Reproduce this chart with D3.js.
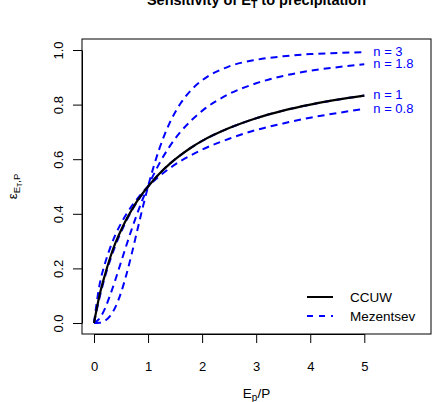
<!DOCTYPE html>
<html>
<head>
<meta charset="utf-8">
<script src="https://cdn.jsdelivr.net/npm/d3@7"></script>
<style>
  body { margin: 0; background: #fff; }
  svg text { font-family: "Liberation Sans", Arial, sans-serif; }
</style>
</head>
<body>
<svg id="chart" width="433" height="402"></svg>
<script>
// values (Ep/P on x, elasticity on y)
const ratio = [0, 0.1, 0.2, 0.3, 0.4, 0.5, 0.6, 0.7, 0.8, 0.9, 1, 1.2, 1.4, 1.6, 1.8, 2, 2.5, 3, 3.5, 4, 4.5, 5];

const ccuw = [0, 0.100, 0.175, 0.240, 0.295, 0.340, 0.380, 0.415, 0.447, 0.475, 0.5,
  0.545, 0.583, 0.615, 0.643, 0.667, 0.714, 0.750, 0.778, 0.800, 0.818, 0.833];

const mezN08 = [0, 0.137, 0.216, 0.276, 0.325, 0.365, 0.399, 0.429, 0.455, 0.479, 0.5,
  0.536, 0.567, 0.593, 0.615, 0.635, 0.675, 0.707, 0.731, 0.752, 0.769, 0.784];
const mezN1 = [0, 0.091, 0.167, 0.231, 0.286, 0.333, 0.375, 0.412, 0.444, 0.474, 0.5,
  0.545, 0.583, 0.615, 0.643, 0.667, 0.714, 0.750, 0.778, 0.800, 0.818, 0.833];
const mezN18 = [0, 0.016, 0.052, 0.103, 0.161, 0.223, 0.285, 0.345, 0.401, 0.453, 0.5,
  0.581, 0.647, 0.700, 0.742, 0.777, 0.839, 0.878, 0.905, 0.924, 0.937, 0.948];
const mezN3 = [0, 0.001, 0.008, 0.026, 0.060, 0.111, 0.178, 0.255, 0.339, 0.422, 0.5,
  0.633, 0.733, 0.804, 0.854, 0.889, 0.940, 0.964, 0.977, 0.985, 0.989, 0.992];

const mezSeries = [mezN08, mezN1, mezN18, mezN3];
const mezLabels = ["n = 0.8", "n = 1", "n = 1.8", "n = 3"];

const xTicks = [0, 1, 2, 3, 4, 5];
const yTicks = [0, 0.2, 0.4, 0.6, 0.8, 1.0];

const legendNames = ["CCUW", "Mezentsev"];

const svg = d3.select("#chart");

// plot region (R style box)
const box = { left: 82, right: 431, top: 39, bottom: 334 };

const x = d3.scaleLinear().domain([0, 5]).range([94, 364.3]);
const y = d3.scaleLinear().domain([0, 1]).range([323, 50]);

const line = d3.line()
  .x((d, i) => x(ratio[i]))
  .y(d => y(d))
  .curve(d3.curveMonotoneX);

// mezentsev curves, dashed blue
mezSeries.forEach(s => {
  svg.append("path")
    .datum(s)
    .attr("d", line)
    .attr("fill", "none")
    .attr("stroke", "#0000ff")
    .attr("stroke-width", 2)
    .attr("stroke-dasharray", "7,5");
});

// ccuw, solid black
svg.append("path")
  .datum(ccuw)
  .attr("d", line)
  .attr("fill", "none")
  .attr("stroke", "#000")
  .attr("stroke-width", 2.2);

// labels at the curve ends
mezSeries.forEach((s, i) => {
  svg.append("text")
    .attr("x", x(5) + 9)
    .attr("y", y(s[s.length - 1]) - 1)
    .attr("dy", "0.35em")
    .attr("font-size", 13)
    .attr("fill", "#0000ff")
    .text(mezLabels[i]);
});

// box
svg.append("rect")
  .attr("x", box.left)
  .attr("y", box.top)
  .attr("width", box.right - box.left)
  .attr("height", box.bottom - box.top)
  .attr("fill", "none")
  .attr("stroke", "#000")
  .attr("stroke-width", 1);

// x axis
const xAxis = svg.append("g")
  .attr("transform", `translate(0,${box.bottom})`)
  .call(d3.axisBottom(x).tickValues(xTicks).tickSize(9).tickPadding(19).tickSizeOuter(0)
    .tickFormat(d3.format("d")));
xAxis.select(".domain").attr("stroke-width", 1);
xAxis.selectAll("text").attr("font-size", 13).attr("fill", "#000")
  .attr("font-family", "Liberation Sans, Arial, sans-serif");

// y axis (labels rotated like R)
const yAxis = svg.append("g")
  .attr("transform", `translate(${box.left},0)`)
  .call(d3.axisLeft(y).tickValues(yTicks).tickSize(9).tickSizeOuter(0)
    .tickFormat(d3.format(".1f")));
yAxis.selectAll("text").remove();
yAxis.selectAll(".tick").append("text")
  .attr("transform", "translate(-19,0) rotate(-90)")
  .attr("text-anchor", "middle")
  .attr("fill", "#000")
  .attr("font-size", 13)
  .attr("font-family", "Liberation Sans, Arial, sans-serif")
  .text(d => d3.format(".1f")(d));

// title
const title = svg.append("text")
  .attr("x", (box.left + box.right) / 2)
  .attr("y", 5)
  .attr("text-anchor", "middle")
  .attr("font-size", 14.5)
  .attr("font-weight", "bold");
title.append("tspan").text("Sensitivity of E");
title.append("tspan").attr("dy", 3).attr("font-size", 10.5).text("T");
title.append("tspan").attr("dy", -3).text(" to precipitation");

// x label
const xLab = svg.append("text")
  .attr("x", (box.left + box.right) / 2)
  .attr("y", 398)
  .attr("text-anchor", "middle")
  .attr("font-size", 13.5);
xLab.append("tspan").text("E");
xLab.append("tspan").attr("dy", 3).attr("font-size", 10).text("p");
xLab.append("tspan").attr("dy", -3).text("/P");

// y label
const yLab = svg.append("text")
  .attr("transform", `translate(17,${(box.top + box.bottom) / 2}) rotate(-90)`)
  .attr("text-anchor", "middle")
  .attr("font-size", 13.5);
yLab.append("tspan").text("ε");
yLab.append("tspan").attr("dy", 3).attr("font-size", 9.5).text("E");
yLab.append("tspan").attr("dy", 2).attr("font-size", 7).text("T");
yLab.append("tspan").attr("dy", -2).attr("font-size", 9.5).text(",P");

// legend
const legendY = [297, 316];
legendNames.forEach((name, i) => {
  svg.append("line")
    .attr("x1", 307).attr("x2", 333)
    .attr("y1", legendY[i]).attr("y2", legendY[i])
    .attr("stroke", i === 0 ? "#000" : "#0000ff")
    .attr("stroke-width", 2)
    .attr("stroke-dasharray", i === 0 ? null : "6,6");
  svg.append("text")
    .attr("x", 350)
    .attr("y", legendY[i])
    .attr("dy", "0.35em")
    .attr("font-size", 13.5)
    .text(name);
});
</script>
</body>
</html>
